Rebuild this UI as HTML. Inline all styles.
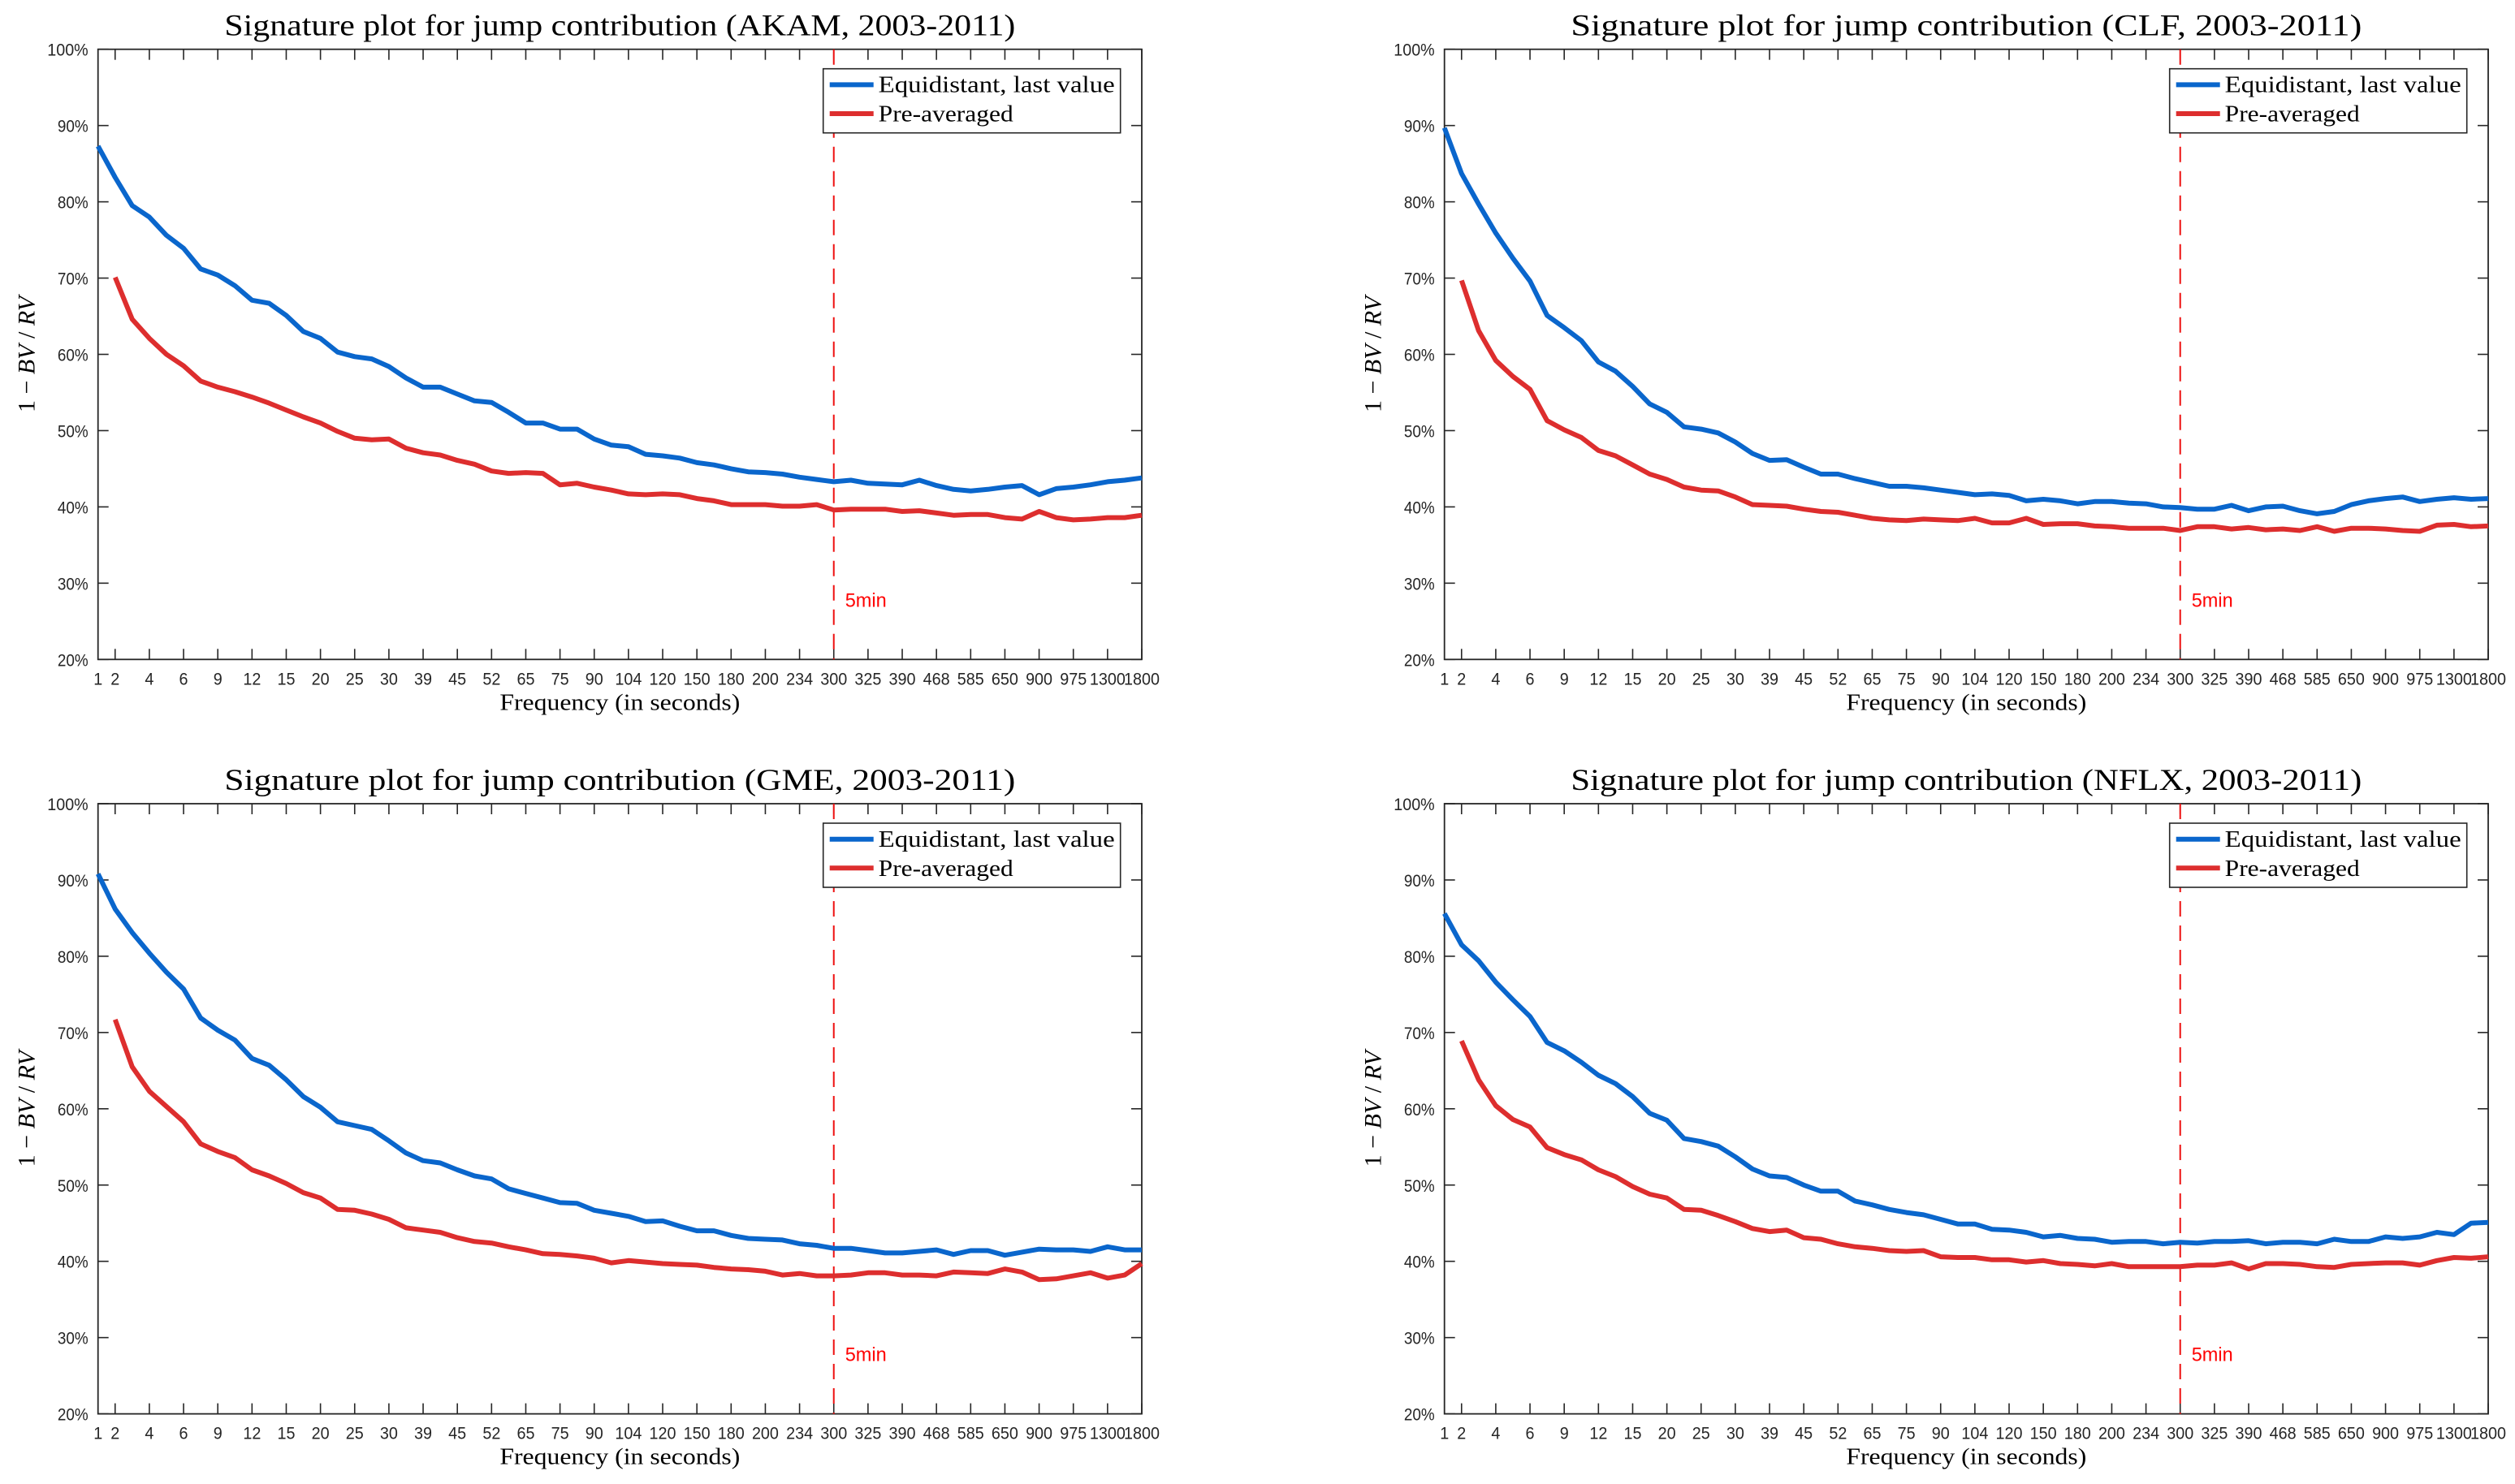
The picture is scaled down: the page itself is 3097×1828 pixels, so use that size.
<!DOCTYPE html>
<html>
<head>
<meta charset="utf-8">
<style>
  html,body{margin:0;padding:0;background:#fff;}
  svg{display:block;}
  .tick{font-family:"Liberation Sans",Arial,sans-serif;font-size:21px;fill:#262626;}
  .ser{font-family:"Liberation Serif","DejaVu Serif",serif;fill:#000;}
</style>
</head>
<body>
<svg id="fig" xmlns="http://www.w3.org/2000/svg" width="3097" height="1828" viewBox="0 0 3097 1828"></svg>
<script>
// ---- data ----
const tickLabels = ["2","4","6","9","12","15","20","25","30","39","45","52","65","75","90","104","120","150","180","200","234","300","325","390","468","585","650","900","975","1300","1800"];
const yTicks = [20,30,40,50,60,70,80,90,100];
const stocks = ["AKAM","CLF","GME","NFLX"];
// Equidistant, last value (indices 1..62)
const akamEq = [87.3,83.2,79.5,78,75.6,73.9,71.2,70.4,69,67.1,66.7,65.1,63,62.1,60.3,59.7,59.4,58.4,56.9,55.7,55.7,54.8,53.9,53.7,52.4,51,51,50.2,50.2,48.9,48.1,47.9,46.9,46.7,46.4,45.8,45.5,45,44.6,44.5,44.3,43.9,43.6,43.3,43.5,43.1,43,42.9,43.5,42.8,42.3,42.1,42.3,42.6,42.8,41.6,42.4,42.6,42.9,43.3,43.5,43.8];
const clfEq = [89.7,83.7,79.7,75.9,72.6,69.6,65.1,63.5,61.8,59,57.8,55.8,53.5,52.4,50.5,50.2,49.7,48.5,47,46.1,46.2,45.2,44.3,44.3,43.7,43.2,42.7,42.7,42.5,42.2,41.9,41.6,41.7,41.5,40.8,41,40.8,40.4,40.7,40.7,40.5,40.4,40,39.9,39.7,39.7,40.2,39.5,40,40.1,39.5,39.1,39.4,40.3,40.8,41.1,41.3,40.7,41,41.2,41,41.1];
const gmeEq = [90.8,86.2,83.1,80.4,77.9,75.7,71.9,70.3,69,66.6,65.7,63.8,61.6,60.2,58.3,57.8,57.3,55.8,54.2,53.2,52.9,52,51.2,50.8,49.5,48.9,48.3,47.7,47.6,46.7,46.3,45.9,45.2,45.3,44.6,44,44,43.4,43,42.9,42.8,42.3,42.1,41.7,41.7,41.4,41.1,41.1,41.3,41.5,40.9,41.4,41.4,40.8,41.2,41.6,41.5,41.5,41.3,41.9,41.5,41.5];
const nflxEq = [85.6,81.5,79.4,76.6,74.3,72.1,68.7,67.6,66.1,64.4,63.3,61.6,59.4,58.5,56.1,55.7,55.1,53.7,52.1,51.2,51,50,49.2,49.2,47.9,47.4,46.8,46.4,46.1,45.5,44.9,44.9,44.2,44.1,43.8,43.2,43.4,43,42.9,42.5,42.6,42.6,42.3,42.5,42.4,42.6,42.6,42.7,42.3,42.5,42.5,42.3,42.9,42.6,42.6,43.2,43,43.2,43.8,43.5,45,45.1];
// Pre-averaged (indices 2..62)
const akamPre = [70.1,64.6,62.1,60,58.5,56.5,55.7,55.1,54.4,53.6,52.7,51.8,51,49.9,49,48.8,48.9,47.7,47.1,46.8,46.1,45.6,44.7,44.4,44.5,44.4,42.9,43.1,42.6,42.2,41.7,41.6,41.7,41.6,41.1,40.8,40.3,40.3,40.3,40.1,40.1,40.3,39.6,39.7,39.7,39.7,39.4,39.5,39.2,38.9,39,39,38.6,38.4,39.4,38.6,38.3,38.4,38.6,38.6,38.9];
const clfPre = [69.7,63.1,59.2,57.1,55.4,51.3,50.1,49.1,47.4,46.7,45.5,44.3,43.6,42.6,42.2,42.1,41.3,40.3,40.2,40.1,39.7,39.4,39.3,38.9,38.5,38.3,38.2,38.4,38.3,38.2,38.5,37.9,37.9,38.5,37.7,37.8,37.8,37.5,37.4,37.2,37.2,37.2,36.9,37.4,37.4,37.1,37.3,37,37.1,36.9,37.4,36.8,37.2,37.2,37.1,36.9,36.8,37.6,37.7,37.4,37.5];
const gmePre = [71.7,65.5,62.3,60.3,58.3,55.4,54.4,53.6,52,51.2,50.2,49,48.3,46.8,46.7,46.2,45.5,44.4,44.1,43.8,43.1,42.6,42.4,41.9,41.5,41,40.9,40.7,40.4,39.8,40.1,39.9,39.7,39.6,39.5,39.2,39,38.9,38.7,38.2,38.4,38.1,38.1,38.2,38.5,38.5,38.2,38.2,38.1,38.6,38.5,38.4,39,38.6,37.6,37.7,38.1,38.5,37.8,38.2,39.7];
const nflxPre = [68.9,63.8,60.4,58.6,57.6,54.9,54,53.3,52,51.1,49.8,48.8,48.3,46.8,46.7,46,45.2,44.3,43.9,44.1,43.1,42.9,42.3,41.9,41.7,41.4,41.3,41.4,40.6,40.5,40.5,40.2,40.2,39.9,40.1,39.7,39.6,39.4,39.7,39.3,39.3,39.3,39.3,39.5,39.5,39.8,39,39.7,39.7,39.6,39.3,39.2,39.6,39.7,39.8,39.8,39.5,40.1,40.5,40.4,40.6];
const eqSeries = [akamEq, clfEq, gmeEq, nflxEq];
const preSeries = [akamPre, clfPre, gmePre, nflxPre];
const markerIndex = 44; // 300 seconds

// ---- layout ----
const NS = "http://www.w3.org/2000/svg";
const svg = document.getElementById("fig");
const PW = 1285.3, PH = 751.6;
const lefts = [120.7, 1778.7, 120.7, 1778.7];
const tops = [60.7, 60.7, 990, 990];
const nIdx = 62;

function mk(tag, attrs, parent) {
  const e = document.createElementNS(NS, tag);
  for (const k in attrs) e.setAttribute(k, attrs[k]);
  (parent || svg).appendChild(e);
  return e;
}

stocks.forEach((stock, p) => {
  const L = lefts[p], T = tops[p];
  const xs = i => L + (i - 1) / (nIdx - 1) * PW;
  const ys = v => T + PH - (v - 20) / 80 * PH;
  const g = mk("g", {});
  
  

  // title
  const title = mk("text", {x: L + PW / 2, y: T - 17, "text-anchor": "middle", class: "ser", "font-size": 37, textLength: 974, lengthAdjust: "spacingAndGlyphs"}, g);
  title.textContent = "Signature plot for jump contribution (" + stock + ", 2003-2011)";
  
  

  // y ticks
  yTicks.forEach(v => {
    const y = ys(v);
    const t1 = mk("line", {x1: L, x2: L + 13, y1: y, y2: y, stroke: "#262626", "stroke-width": 1.6}, g);
    
    
    const t2 = mk("line", {x1: L + PW, x2: L + PW - 13, y1: y, y2: y, stroke: "#262626", "stroke-width": 1.6}, g);
    
    
    const s = v + "%";
    const lb = mk("text", {x: L - 12, y: y + 8, "text-anchor": "end", class: "tick", textLength: s.length * 12.6, lengthAdjust: "spacingAndGlyphs"}, g);
    lb.textContent = s;
    
    
  });

  // x ticks
  const l1 = mk("text", {x: xs(1), y: T + PH + 31, "text-anchor": "middle", class: "tick", textLength: 11, lengthAdjust: "spacingAndGlyphs"}, g);
  l1.textContent = "1";
  
  
  tickLabels.forEach((s, k) => {
    const i = 2 + 2 * k;
    const x = xs(i);
    const a = mk("line", {x1: x, x2: x, y1: T + PH, y2: T + PH - 13, stroke: "#262626", "stroke-width": 1.6}, g);
    
    
    const b = mk("line", {x1: x, x2: x, y1: T, y2: T + 13, stroke: "#262626", "stroke-width": 1.6}, g);
    
    
    const lb = mk("text", {x: x, y: T + PH + 31, "text-anchor": "middle", class: "tick", textLength: s.length * 11, lengthAdjust: "spacingAndGlyphs"}, g);
    lb.textContent = s;
    
    
  });

  // axis box
  const box = mk("rect", {x: L, y: T, width: PW, height: PH, fill: "none", stroke: "#262626", "stroke-width": 1.8}, g);
  
  

  // x label
  const xl = mk("text", {x: L + PW / 2, y: T + PH + 62, "text-anchor": "middle", class: "ser", "font-size": 28, textLength: 296, lengthAdjust: "spacingAndGlyphs"}, g);
  xl.textContent = "Frequency (in seconds)";
  
  

  // y label
  const yl = mk("text", {x: 0, y: 0, "text-anchor": "middle", class: "ser", "font-size": 30, transform: "translate(" + (L - 78) + "," + (T + PH / 2) + ") rotate(-90)"}, g);
  yl.innerHTML = '1 − <tspan font-style="italic">BV</tspan> / <tspan font-style="italic">RV</tspan>';
  
  

  // 5min marker
  const mx = xs(markerIndex);
  const ml = mk("line", {x1: mx, x2: mx, y1: T, y2: T + PH, stroke: "#ee1111", "stroke-width": 2, "stroke-dasharray": "19 11"}, g);
  
  
  const mt = mk("text", {x: mx + 14, y: T + PH - 65, "font-family": "Liberation Sans, sans-serif", "font-size": 24, fill: "#ff0000", textLength: 51, lengthAdjust: "spacingAndGlyphs"}, g);
  mt.textContent = "5min";
  
  

  // series
  const eq = eqSeries[p];
  const eqPts = eq.map((v, k) => xs(k + 1).toFixed(1) + "," + ys(v).toFixed(1)).join(" ");
  const pe = mk("polyline", {points: eqPts, fill: "none", stroke: "#0a66cc", "stroke-width": 6, "stroke-linejoin": "round"}, g);
  
  
  const pre = preSeries[p];
  const prePts = pre.map((v, k) => xs(k + 2).toFixed(1) + "," + ys(v).toFixed(1)).join(" ");
  const pp = mk("polyline", {points: prePts, fill: "none", stroke: "#dd2e2e", "stroke-width": 6, "stroke-linejoin": "round"}, g);
  
  

  // legend
  const lg = mk("g", {}, g);
  
  
  mk("rect", {x: L + 893, y: T + 24, width: 366, height: 79, fill: "#fff", stroke: "#262626", "stroke-width": 1.6}, lg);
  const e1 = mk("line", {x1: L + 901, x2: L + 955, y1: T + 43.7, y2: T + 43.7, stroke: "#0a66cc", "stroke-width": 6}, lg);
  
  
  const t1 = mk("text", {x: L + 961, y: T + 53, class: "ser", "font-size": 29, textLength: 291, lengthAdjust: "spacingAndGlyphs"}, lg);
  t1.textContent = "Equidistant, last value";
  
  
  const e2 = mk("line", {x1: L + 901, x2: L + 955, y1: T + 79.3, y2: T + 79.3, stroke: "#dd2e2e", "stroke-width": 6}, lg);
  
  
  const t2 = mk("text", {x: L + 961, y: T + 89, class: "ser", "font-size": 29, textLength: 166, lengthAdjust: "spacingAndGlyphs"}, lg);
  t2.textContent = "Pre-averaged";
  
  
});
</script>
</body>
</html>
